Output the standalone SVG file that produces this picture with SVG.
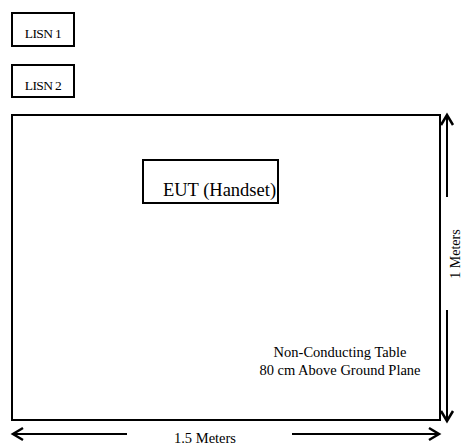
<svg xmlns="http://www.w3.org/2000/svg" width="462" height="444" viewBox="0 0 462 444">
<style>
.box{fill:#fff;stroke:#000;stroke-width:2}
.ln{fill:none;stroke:#000;stroke-width:2}
.hd{fill:none;stroke:#000;stroke-width:2.5;stroke-linejoin:miter}
text{font-family:"Liberation Serif","Times New Roman",serif;fill:#000}
</style>
<rect width="462" height="444" fill="#fff"/>
<g id="table">
<rect class="box" x="12" y="115" width="428" height="305"/>
<text x="340" y="357" font-size="14.5" text-anchor="middle">Non-Conducting Table</text>
<text x="340" y="375" font-size="14.5" text-anchor="middle">80 cm Above Ground Plane</text>
</g>
<g id="lisn1">
<rect class="box" x="12" y="13" width="62" height="33"/>
<text x="43" y="38" font-size="13.5" text-anchor="middle" letter-spacing="-0.6">LISN 1</text>
</g>
<g id="lisn2">
<rect class="box" x="12" y="65" width="62" height="32"/>
<text x="43" y="90" font-size="13.5" text-anchor="middle" letter-spacing="-0.6">LISN 2</text>
</g>
<g id="eut">
<rect class="box" x="143" y="160" width="135" height="43"/>
<text x="219.5" y="195.5" font-size="18.5" text-anchor="middle">EUT (Handset)</text>
</g>
<g id="connectors">
<line class="ln" x1="13" y1="434" x2="127" y2="434"/>
<line class="ln" x1="292" y1="434" x2="439" y2="434"/>
<polyline class="hd" points="23,428 13,434 23,440"/>
<polyline class="hd" points="429,428 439,434 429,440"/>
<line class="ln" x1="447" y1="116" x2="447" y2="197"/>
<line class="ln" x1="447" y1="310" x2="447" y2="420"/>
<polyline class="hd" points="441,125 447,115 453,125"/>
<polyline class="hd" points="441,411 447,421 453,411"/>
</g>
<text x="205" y="442.5" font-size="14.5" text-anchor="middle">1.5 Meters</text>
<text transform="translate(460,254) rotate(-90)" x="0" y="0" font-size="14" text-anchor="middle">1 Meters</text>
</svg>
